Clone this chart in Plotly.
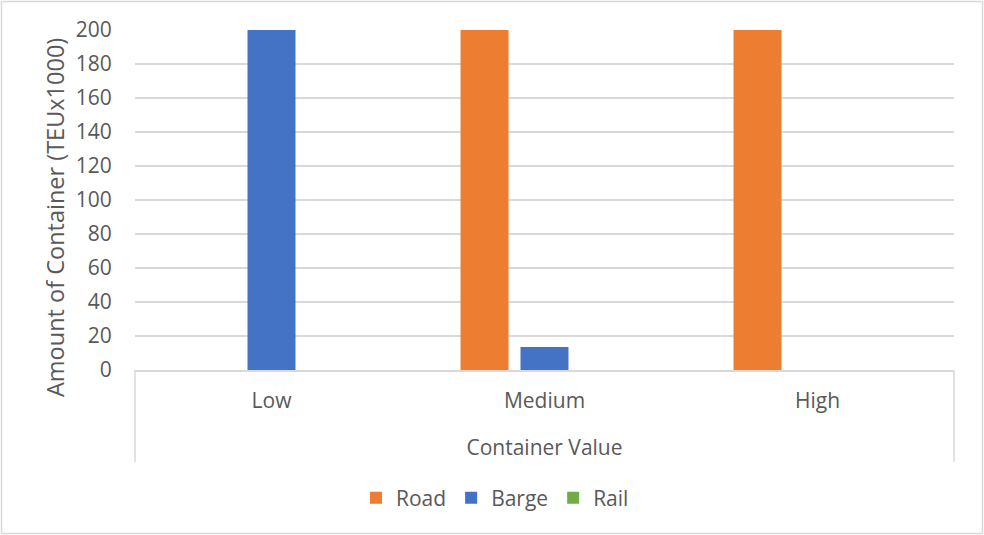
import plotly.graph_objects as go

categories = ["Low", "Medium", "High"]
road = [0, 200, 200]
barge = [200, 13.5, 0]
rail = [0, 0, 0]

W, H = 984, 535
ML, MR, MT, MB = 135, 30, 30, 165
PW, PH = W - ML - MR, H - MT - MB

TXT = "#595959"
GRID = "#d9d9d9"
FONT = "Open Sans, Segoe UI, sans-serif"

fig = go.Figure()
fig.add_bar(name="Road", x=categories, y=road, marker=dict(color="#ED7D31", line=dict(width=0)))
fig.add_bar(name="Barge", x=categories, y=barge, marker=dict(color="#4472C4", line=dict(width=0)))
fig.add_bar(name="Rail", x=categories, y=rail, marker=dict(color="#70AD47", line=dict(width=0)))


def px_x(v):
    return (v - ML) / PW


def px_y(v):
    return (H - MB - v) / PH


shapes = [
    # outer chart border
    dict(type="rect", xref="paper", yref="paper",
         x0=px_x(1.5), x1=px_x(982.5), y0=px_y(533.5), y1=px_y(1.5),
         line=dict(color="#d9d9d9", width=1.5), layer="below"),
    # category axis frame
    dict(type="line", xref="paper", yref="paper", x0=0, x1=0, y0=0, y1=px_y(462),
         line=dict(color=GRID, width=1.5)),
    dict(type="line", xref="paper", yref="paper", x0=1, x1=1, y0=0, y1=px_y(462),
         line=dict(color=GRID, width=1.5)),
]

fig.update_layout(
    width=W, height=H,
    margin=dict(l=ML, r=MR, t=MT, b=MB),
    paper_bgcolor="white", plot_bgcolor="white",
    font=dict(family=FONT, color=TXT, size=21),
    barmode="group", bargap=0.341, bargroupgap=0.2,
    showlegend=True,
    legend=dict(orientation="h", x=px_x(495), xanchor="center", xref="paper",
                y=px_y(498), yanchor="middle", font=dict(size=21, color=TXT),
                itemclick=False, traceorder="normal"),
    shapes=shapes,
    annotations=[
        dict(text="Amount of Container (TEUx1000)", textangle=-90,
             xref="paper", yref="paper", x=px_x(55), y=px_y(218),
             xanchor="center", yanchor="middle", showarrow=False,
             font=dict(size=23.5, color=TXT)),
    ],
    xaxis=dict(
        showgrid=False, zeroline=False,
        showline=True, linecolor=GRID, linewidth=1.5,
        ticks="outside", ticklen=11, tickcolor="rgba(0,0,0,0)",
        tickfont=dict(size=21, color=TXT),
        title=dict(text="Container Value", font=dict(size=21, color=TXT), standoff=27),
    ),
    yaxis=dict(
        range=[0, 200], dtick=20, tick0=0,
        showgrid=True, gridcolor=GRID, gridwidth=1.5,
        zeroline=False, showline=False,
        ticks="outside", ticklen=18, tickcolor="rgba(0,0,0,0)",
        tickfont=dict(size=21, color=TXT),
    ),
)

fig.write_html("out.html")
